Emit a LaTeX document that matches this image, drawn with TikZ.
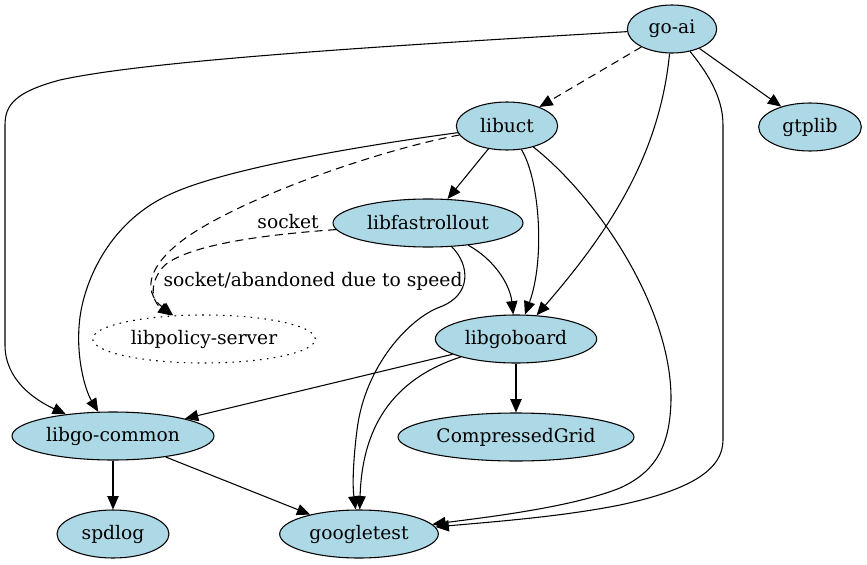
\documentclass[tikz,border=0pt]{standalone}
\usepackage{fontspec}
\setmainfont{DejaVu Serif}
\usetikzlibrary{shapes.geometric, arrows.meta}
\definecolor{pkgblue}{RGB}{173,216,230}

\begin{document}
\begin{tikzpicture}[
        x=0.75pt, y=-0.75pt, % координаты в пикселях, ось y вниз
        font=\fontsize{14}{16}\selectfont,
        line width=0.8pt,
        pkg/.style = {ellipse, draw, fill=pkgblue, inner sep=0pt, minimum height=36pt}, % Стиль узлов
        ghost/.style = {ellipse, draw, dash pattern=on 1.2pt off 4pt, inner sep=0pt, minimum height=36pt},
        dep/.style = {draw, -{Triangle[length=10pt, width=8.5pt]}}, % Стиль зависимостей
        soft/.style = {dep, dash pattern=on 6pt off 4pt},
        lbl/.style = {inner sep=0pt},
    ]
    \useasboundingbox (0,0) rectangle (867,564);

    \node[pkg, minimum width=67pt] (goai) at (672,29) {go-ai};
    \node[pkg, minimum width=77pt] (gtplib) at (810,127) {gtplib};
    \node[pkg, minimum width=76pt] (libuct) at (507,126) {libuct};
    \node[pkg, minimum width=142.5pt] (fastrollout) at (428,223) {libfastrollout};
    \node[ghost, minimum width=167pt] (policy) at (204,339) {libpolicy-server};
    \node[pkg, minimum width=121pt] (goboard) at (516,339) {libgoboard};
    \node[pkg, minimum width=151.5pt] (gocommon) at (113,436) {libgo-common};
    \node[pkg, minimum width=177pt] (grid) at (516,437) {CompressedGrid};
    \node[pkg, minimum width=84pt] (spdlog) at (113,534) {spdlog};
    \node[pkg, minimum width=119pt] (gtest) at (359,534) {googletest};

    \node[lbl] (socketlbl) at (288,222) {socket};
    \node[lbl] (abandonlbl) at (313,281) {socket/abandoned due to speed};

    % go-ai
    \draw[dep] (goai) .. controls (400,45) and (150,60) .. (60,80)
        .. controls (15,92) and (5,105) .. (5,125) -- (5,345)
        .. controls (5,380) and (35,400) .. (gocommon);
    \draw[soft] (goai) -- (libuct);
    \draw[dep] (goai) -- (gtplib);
    \draw[dep] (goai) .. controls (660,150) and (615,225) .. (goboard);
    \draw[dep] (goai) .. controls (705,70) and (723,95) .. (723,125) -- (723,440)
        .. controls (723,470) and (690,490) .. (620,505)
        .. controls (560,517) and (490,522) .. (gtest);

    % libuct
    \draw[dep] (libuct) .. controls (330,150) and (220,172) .. (173,193)
        .. controls (110,220) and (85,280) .. (80,317)
        .. controls (75,355) and (85,390) .. (gocommon);
    \draw[soft] (libuct) .. controls (380,150) and (250,195) .. (190,235)
        .. controls (150,262) and (140,290) .. (policy);
    \draw[dep] (libuct) -- (fastrollout);
    \draw[dep] (libuct) .. controls (540,180) and (545,260) .. (goboard);
    \draw[dep] (libuct) .. controls (600,200) and (672,310) .. (671,400)
        .. controls (670,440) and (660,470) .. (620,488)
        .. controls (570,508) and (480,518) .. (gtest);

    % libfastrollout
    \draw[soft] (fastrollout) .. controls (260,235) and (190,245) .. (165,265)
        .. controls (150,280) and (150,300) .. (policy);
    \draw[dep] (fastrollout) .. controls (495,260) and (510,285) .. (goboard);
    \draw[dep] (fastrollout) .. controls (470,265) and (472,295) .. (440,307)
        .. controls (410,318) and (365,365) .. (357,430)
        .. controls (352,470) and (353,490) .. (gtest);

    % libgoboard, libgo-common
    \draw[dep] (goboard) -- (gocommon);
    \draw[dep] (goboard) -- (grid);
    \draw[dep] (goboard) .. controls (390,380) and (362,430) .. (gtest);
    \draw[dep] (gocommon) -- (spdlog);
    \draw[dep] (gocommon) -- (gtest);

\end{tikzpicture}
\end{document}
